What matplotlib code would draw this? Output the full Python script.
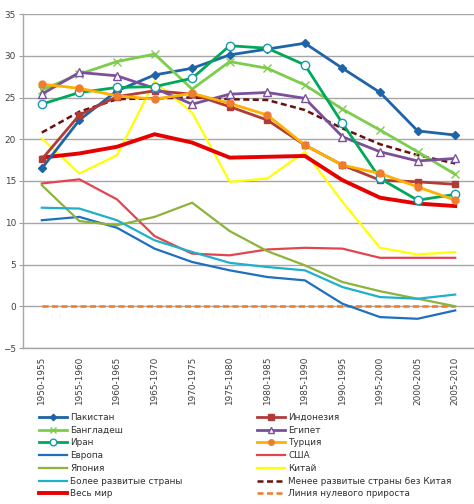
import matplotlib
matplotlib.use("Agg")
import matplotlib.pyplot as plt
import numpy as np

periods = ["1950-1955", "1955-1960", "1960-1965", "1965-1970", "1970-1975", "1975-1980",
           "1980-1985", "1985-1990", "1990-1995", "1995-2000", "2000-2005", "2005-2010"]

pakistan = [16.5, 22.3, 25.8, 27.7, 28.5, 30.1, 30.8, 31.5, 28.5, 25.6, 21.0, 20.5]
indonesia = [17.6, 22.9, 25.1, 25.8, 25.4, 23.9, 22.3, 19.3, 16.9, 15.1, 14.9, 14.6]
bangladesh = [25.9, 27.8, 29.3, 30.2, 26.0, 29.3, 28.5, 26.5, 23.6, 21.1, 18.5, 15.8]
egypt = [25.4, 28.0, 27.6, 26.1, 24.2, 25.4, 25.6, 24.9, 20.3, 18.5, 17.4, 17.7]
iran = [24.2, 25.6, 26.2, 26.3, 27.3, 31.2, 30.9, 28.9, 21.9, 15.3, 12.7, 13.4]
turkey = [26.6, 26.1, 25.2, 24.8, 25.5, 24.3, 22.9, 19.3, 16.9, 15.9, 14.3, 12.7]
europe = [10.3, 10.7, 9.4, 6.9, 5.3, 4.3, 3.5, 3.1, 0.3, -1.3, -1.5, -0.5]
usa = [14.7, 15.2, 12.8, 8.4, 6.3, 6.1, 6.8, 7.0, 6.9, 5.8, 5.8, 5.8]
japan = [14.5, 10.2, 9.7, 10.7, 12.4, 9.0, 6.6, 4.9, 2.9, 1.8, 0.9, 0.0]
china = [20.1, 15.9, 18.1, 26.9, 23.2, 14.9, 15.3, 18.5, 12.5, 7.0, 6.2, 6.5]
more_dev = [11.8, 11.7, 10.3, 7.9, 6.5, 5.2, 4.7, 4.3, 2.3, 1.1, 0.9, 1.4]
less_dev_no_china = [20.8, 23.3, 24.8, 24.9, 25.0, 24.8, 24.7, 23.5, 21.3, 19.4, 18.1, 17.1]
world = [17.8, 18.3, 19.1, 20.6, 19.6, 17.8, 17.9, 18.0, 15.1, 13.0, 12.3, 12.0]
zero_line = [0] * 12

plt.rcParams['font.family'] = ['DejaVu Sans']

fig = plt.figure(figsize=(4.74, 5.04), dpi=100)
ax = fig.add_axes([23 / 474, 1 - 348 / 504, 451 / 474, 334 / 504])
x = np.arange(len(periods))

# name, data, colour, width, style, marker, marker face, marker edge, marker size
series = [
    ("Пакистан", pakistan, "#1f64a6", 2.0, "-", "D", "#1f64a6", "#1f64a6", 4),
    ("Индонезия", indonesia, "#b03c38", 2.0, "-", "s", "#b03c38", "#b03c38", 5),
    ("Бангладеш", bangladesh, "#7dcc4c", 2.0, "-", "x", "#7dcc4c", "#7dcc4c", 6),
    ("Египет", egypt, "#7a4f9c", 2.0, "-", "^", "white", "#7a4f9c", 6),
    ("Иран", iran, "#00a859", 2.0, "-", "o", "white", "#1a9aa8", 6),
    ("Турция", turkey, "#ffb000", 2.0, "-", "o", "#ef7d2f", "#ef7d2f", 5),
    ("Европа", europe, "#1f6fc0", 1.6, "-", None, None, None, 0),
    ("США", usa, "#e04650", 1.6, "-", None, None, None, 0),
    ("Япония", japan, "#8cb43a", 1.6, "-", None, None, None, 0),
    ("Китай", china, "#ffff00", 1.6, "-", None, None, None, 0),
    ("Более развитые страны", more_dev, "#1fb0cc", 1.6, "-", None, None, None, 0),
    ("Менее развитые страны без Китая", less_dev_no_china, "#6a1010", 1.8, "--", None, None, None, 0),
    ("Весь мир", world, "#e60000", 2.8, "-", None, None, None, 0),
    ("Линия нулевого прироста", zero_line, "#f07a2a", 1.8, "--", None, None, None, 0),
]

# draw order roughly like the source (thin lines first)
draw_order = [13, 6, 7, 8, 10, 9, 12, 11, 0, 1, 2, 3, 4, 5]
handles = {}
for i in draw_order:
    name, vals, col, lw, ls, mk, mfc, mec, ms = series[i]
    kw = dict(color=col, lw=lw, ls=ls, label=name, solid_joinstyle="miter")
    if mk:
        kw.update(marker=mk, mfc=mfc, mec=mec, ms=ms, mew=1.0)
    line, = ax.plot(x, vals, **kw)
    if ls == "--":
        line.set_dashes((2.4, 1.4))
    handles[name] = line

fs = 6.4
ax.set_xlim(-0.5, 11.5)
ax.set_ylim(-5, 35)
ax.set_yticks(range(-5, 36, 5))
ax.set_xticks(x)
ax.set_xticklabels(periods, rotation=90, fontsize=fs, color="#404040")
ax.tick_params(axis="y", labelsize=fs, labelcolor="#404040", length=3, color="#a0a0a0", pad=2)
ax.tick_params(axis="x", length=0, pad=6)
ax.grid(axis="y", color="#a6a6a6", lw=1)
ax.set_axisbelow(True)
for s in ["top", "right"]:
    ax.spines[s].set_visible(False)
for s in ["left", "bottom"]:
    ax.spines[s].set_color("#a6a6a6")
    ax.spines[s].set_linewidth(1)

names = [s[0] for s in series]
left_col = names[0::2]
right_col = names[1::2]
legend_kw = dict(frameon=False, fontsize=fs, handlelength=3.2, handletextpad=0.3,
                 labelspacing=0.42, borderaxespad=0, borderpad=0, labelcolor="#303030",
                 markerscale=0.8)
leg1 = fig.legend([handles[n] for n in left_col], left_col, loc="upper left",
                  bbox_to_anchor=(39 / 474, 1 - 413 / 504), **legend_kw)
leg2 = fig.legend([handles[n] for n in right_col], right_col, loc="upper left",
                  bbox_to_anchor=(257 / 474, 1 - 413 / 504), **legend_kw)

fig.savefig("out.png", dpi=100)
